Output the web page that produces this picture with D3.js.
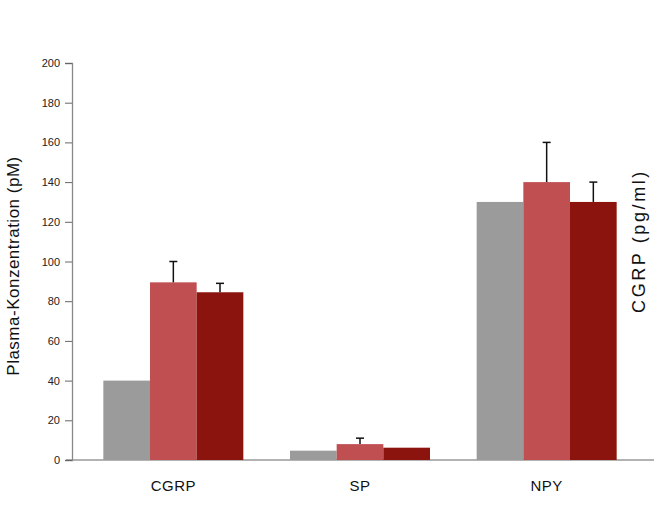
<!DOCTYPE html>
<html>
<head>
<meta charset="utf-8">
<script src="https://cdn.jsdelivr.net/npm/d3@7"></script>
<style>
  html, body { margin: 0; padding: 0; background: #fff; }
  svg { display: block; font-family: "Liberation Sans", Arial, sans-serif; }
</style>
</head>
<body>
<svg id="chart" width="654" height="505"></svg>
<script>
// Peptide groups and the three measurement series
const categories = ["CGRP", "SP", "NPY"];
const seriesNames = ["gray", "light", "dark"];
const grayValues  = [40, 4.7, 130];
const lightValues = [89.5, 8, 140];
const darkValues  = [84.5, 6.2, 130];
// Upper ends of the error whiskers (null = none)
const lightErrTop = [100, 11, 160];
const darkErrTop  = [89, null, 140];
const grayErrTop  = [null, null, null];
const yTicks = [0, 20, 40, 60, 80, 100, 120, 140, 160, 180, 200];

const colors = { gray: "#9b9b9b", light: "#c04f52", dark: "#8b150e" };

const svg = d3.select("#chart");

const y = d3.scaleLinear().domain([0, 200]).range([460, 63]);
const x0 = d3.scaleBand().domain(categories).range([80, 640]).paddingInner(0.25).paddingOuter(0.125);
const x1 = d3.scaleBand().domain(seriesNames).range([0, x0.bandwidth()]);

const rows = categories.map((c, i) => ({
  cat: c,
  bars: [
    { s: "gray", v: grayValues[i], e: grayErrTop[i] },
    { s: "light", v: lightValues[i], e: lightErrTop[i] },
    { s: "dark", v: darkValues[i], e: darkErrTop[i] }
  ]
}));

// baseline across the plot
svg.append("line")
  .attr("x1", 66).attr("x2", 654)
  .attr("y1", y(0)).attr("y2", y(0))
  .attr("stroke", "#999").attr("stroke-width", 1.5);

// y axis
const yAxis = d3.axisLeft(y).tickValues(yTicks).tickSize(7).tickPadding(5).tickFormat(d3.format("d"));
const gy = svg.append("g").attr("transform", "translate(72,0)").call(yAxis);
gy.select(".domain").attr("stroke", "#888").attr("stroke-width", 1.3);
gy.selectAll(".tick line").attr("stroke", "#666");
gy.selectAll(".tick text").attr("fill", "#222").style("font-size", "11px");

// bars
const groups = svg.selectAll("g.grp").data(rows).enter().append("g")
  .attr("class", "grp")
  .attr("transform", d => `translate(${x0(d.cat)},0)`);

groups.selectAll("rect").data(d => d.bars).enter().append("rect")
  .attr("x", d => x1(d.s))
  .attr("width", x1.bandwidth())
  .attr("y", d => y(d.v))
  .attr("height", d => y(0) - y(d.v))
  .attr("fill", d => colors[d.s]);

// error whiskers
const capHalf = 4;
const err = groups.selectAll("g.err").data(d => d.bars.filter(b => b.e != null)).enter().append("g").attr("class", "err");
err.append("line")
  .attr("x1", d => x1(d.s) + x1.bandwidth() / 2)
  .attr("x2", d => x1(d.s) + x1.bandwidth() / 2)
  .attr("y1", d => y(d.v)).attr("y2", d => y(d.e))
  .attr("stroke", "#111").attr("stroke-width", 1.5);
err.append("line")
  .attr("x1", d => x1(d.s) + x1.bandwidth() / 2 - capHalf)
  .attr("x2", d => x1(d.s) + x1.bandwidth() / 2 + capHalf)
  .attr("y1", d => y(d.e)).attr("y2", d => y(d.e))
  .attr("stroke", "#111").attr("stroke-width", 1.5);

// category labels
svg.selectAll("text.cat").data(categories).enter().append("text")
  .attr("class", "cat")
  .attr("x", d => x0(d) + x0.bandwidth() / 2)
  .attr("y", 491)
  .attr("text-anchor", "middle")
  .style("font-size", "15px")
  .style("letter-spacing", "0.5px")
  .attr("fill", "#111")
  .text(d => d);

// axis titles
svg.append("text")
  .attr("transform", "translate(19,266) rotate(-90)")
  .attr("text-anchor", "middle")
  .style("font-size", "17px")
  .style("letter-spacing", "0.5px")
  .attr("fill", "#111")
  .text("Plasma-Konzentration (pM)");

svg.append("text")
  .attr("transform", "translate(645,241) rotate(-90)")
  .attr("text-anchor", "middle")
  .style("font-size", "18px")
  .style("letter-spacing", "2.6px")
  .attr("fill", "#111")
  .text("CGRP (pg/ml)");
</script>
</body>
</html>
